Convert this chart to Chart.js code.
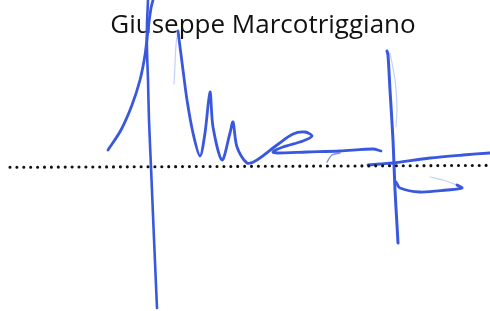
<!DOCTYPE html>
<html>
<head>
<meta charset="utf-8">
<script src="https://cdn.jsdelivr.net/npm/chart.js@4/dist/chart.umd.min.js"></script>
<style>
  html, body { margin: 0; padding: 0; background: #fff; }
  #sig { display: block; }
</style>
</head>
<body>
<canvas id="sig" width="490" height="311"></canvas>
<script>
// name printed above the signature
var nameLabel = 'Giuseppe Marcotriggiano';

// dotted baseline (start / end)
var baseX = [10, 490];
var baseY = [167.3, 165.4];

// signature strokes, picture pixels (y grows downwards)
var upX = [108, 121, 132, 140, 145, 148, 151, 153];
var upY = [150, 130, 105, 80, 55, 30, 8, 0];

var downX = [148, 147, 147, 148, 149, 151, 153, 155, 157];
var downY = [0, 25, 50, 80, 120, 167, 215, 262, 308];

var leadX = [174, 175, 176, 178];
var leadY = [84, 65, 45, 30];

var waveX = [178, 183, 187, 193, 200, 205, 210, 213, 222, 230, 233, 237, 247, 257, 277, 293, 305, 312, 303, 283, 273, 277, 307, 340, 373, 381];
var waveY = [31, 70, 100, 133, 156, 133, 92, 127, 160, 133, 122, 147, 163, 160, 145, 134, 132, 136, 141, 147, 152, 153, 152, 151, 149, 151];

var hookX = [327, 332, 340];
var hookY = [162, 155, 153];

var stemX = [387, 388, 390, 393, 395, 397, 398];
var stemY = [51, 55, 90, 140, 190, 225, 243];

var ghostX = [390, 395, 397, 396];
var ghostY = [53, 80, 107, 127];

var crossX = [368, 380, 393, 430, 463, 490];
var crossY = [165, 164, 163, 158, 155, 153];

var footX = [396, 400, 420, 447, 462, 457];
var footY = [182, 188, 192, 190, 188, 185];

var footTailX = [457, 443, 430];
var footTailY = [185, 180, 177];

function pts(xs, ys) {
  return xs.map(function (x, i) { return { x: x, y: ys[i] }; });
}

var ink = 'rgb(58, 88, 222)';
var inkFaint = 'rgba(90, 120, 230, 0.35)';

function stroke(xs, ys, width, color) {
  return {
    data: pts(xs, ys),
    showLine: true,
    borderColor: color,
    borderWidth: width,
    pointRadius: 0,
    tension: 0.3,
    borderCapStyle: 'round',
    borderJoinStyle: 'round',
    fill: false
  };
}

var nameText = {
  id: 'nameText',
  beforeDatasetsDraw: function (chart) {
    var c = chart.ctx;
    c.save();
    c.fillStyle = '#111';
    c.font = '26px "Open Sans"';
    c.textAlign = 'center';
    c.textBaseline = 'alphabetic';
    c.fillText(nameLabel, chart.scales.x.getPixelForValue(263), chart.scales.y.getPixelForValue(32.5));
    c.restore();
  }
};

var dotted = {
  data: pts(baseX, baseY),
  showLine: true,
  borderColor: '#111',
  borderWidth: 3.1,
  borderDash: [0, 6.9],
  borderCapStyle: 'round',
  pointRadius: 0,
  tension: 0,
  fill: false
};

new Chart(document.getElementById('sig'), {
  type: 'scatter',
  data: {
    datasets: [
      dotted,
      stroke(upX, upY, 2.8, ink),
      stroke(downX, downY, 2.6, ink),
      stroke(leadX, leadY, 1.2, inkFaint),
      stroke(waveX, waveY, 2.8, ink),
      stroke(hookX, hookY, 1.4, 'rgba(70,100,225,0.7)'),
      stroke(stemX, stemY, 3, ink),
      stroke(ghostX, ghostY, 1.2, inkFaint),
      stroke(crossX, crossY, 2.8, ink),
      stroke(footX, footY, 2.8, ink),
      stroke(footTailX, footTailY, 1.2, inkFaint)
    ]
  },
  options: {
    responsive: false,
    animation: false,
    devicePixelRatio: 1,
    layout: { padding: 0 },
    plugins: { legend: { display: false }, tooltip: { enabled: false }, title: { display: false } },
    scales: {
      x: { type: 'linear', min: 0, max: 490, display: false },
      y: { type: 'linear', min: 0, max: 311, reverse: true, display: false }
    }
  },
  plugins: [nameText]
});
</script>
</body>
</html>
